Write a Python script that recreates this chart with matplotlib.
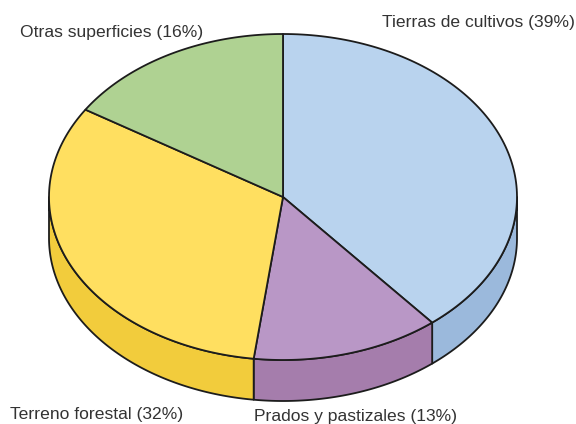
import numpy as np
import matplotlib
matplotlib.use("Agg")
import matplotlib.pyplot as plt
from matplotlib.patches import Polygon

labels = ["Tierras de cultivos (39%)", "Prados y pastizales (13%)",
          "Terreno forestal (32%)", "Otras superficies (16%)"]
values = [39, 13, 32, 16]
top_colors = ["#B9D3EE", "#B997C6", "#FFDF60", "#AFD292"]
side_colors = ["#9BB9DC", "#A57DAC", "#F2CC3C", "#AFD292"]
label_xy = [(575, 22.5), (254, 416), (10, 415), (20, 32)]
label_ha = ["right", "left", "left", "left"]

CX, CY, RX, RY, DEPTH = 283.0, 197.0, 234.0, 163.0, 41.0
LW = 1.3

fig = plt.figure(figsize=(5.76, 4.24), dpi=100)
ax = fig.add_axes([0, 0, 1, 1])
ax.set_xlim(0, 576)
ax.set_ylim(424, 0)
ax.axis("off")

def rim(a0, a1, n=120):
    t = np.radians(np.linspace(a0, a1, n))
    return CX + RX * np.sin(t), CY - RY * np.cos(t)

edges = np.cumsum([0] + values) / sum(values) * 360
for i in range(len(values)):
    a0, a1 = edges[i], edges[i + 1]
    s0, s1 = max(a0, 90), min(a1, 270)
    if s1 > s0:
        x, y = rim(s0, s1)
        pts = np.r_[np.c_[x, y], np.c_[x[::-1], y[::-1] + DEPTH]]
        ax.add_patch(Polygon(pts, closed=True, fc=side_colors[i], ec="#1c1c1c", lw=LW, joinstyle="round"))
for i in range(len(values)):
    x, y = rim(edges[i], edges[i + 1])
    pts = np.r_[[[CX, CY]], np.c_[x, y]]
    ax.add_patch(Polygon(pts, closed=True, fc=top_colors[i], ec="#1c1c1c", lw=LW, joinstyle="round"))
for lab, (lx, ly), ha in zip(labels, label_xy, label_ha):
    ax.text(lx, ly, lab, ha=ha, va="center", fontsize=12.6, family="Liberation Sans", color="#333333")

fig.savefig("out.png", dpi=100)
